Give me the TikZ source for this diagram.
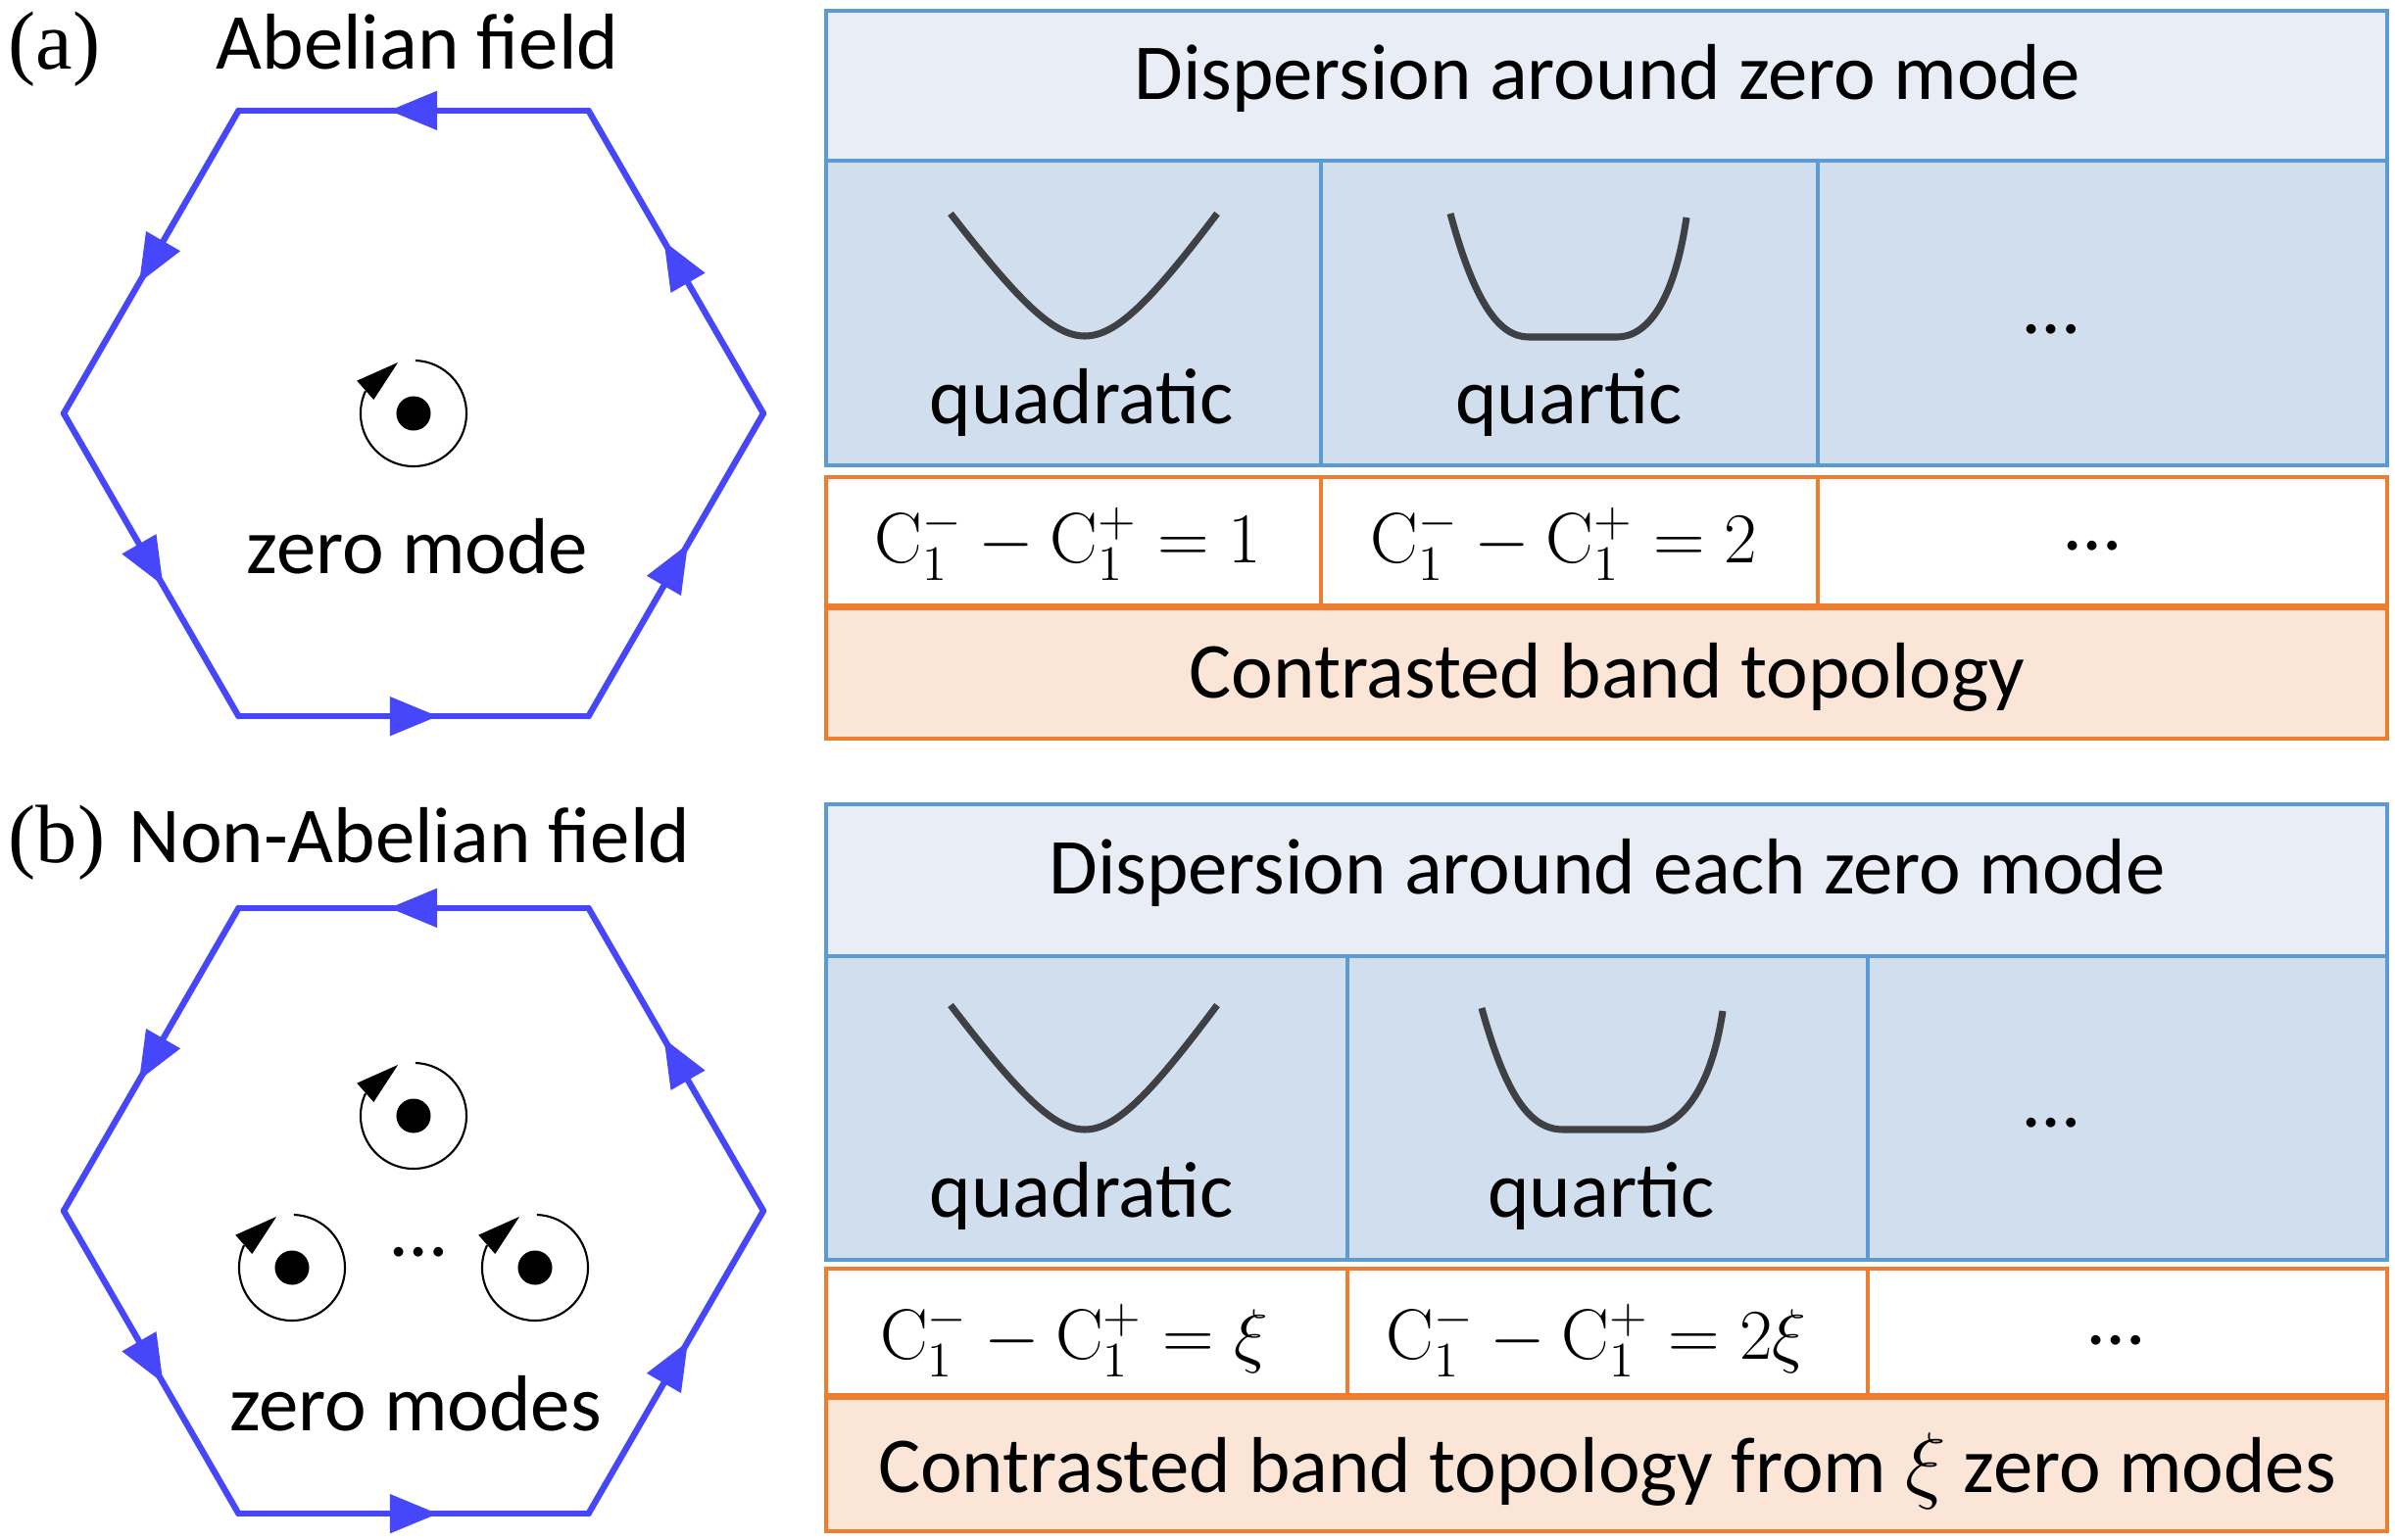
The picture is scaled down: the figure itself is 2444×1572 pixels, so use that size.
\documentclass[tikz,border=0pt]{standalone}
\usepackage[no-math]{fontspec}
\setmainfont{Carlito}
\newfontfamily\tagfont{Liberation Serif}
\usepackage{xcolor}
\usetikzlibrary{arrows.meta}
\usetikzlibrary{decorations.markings}
\definecolor{fieldblue}{RGB}{70,70,250}
\definecolor{cellblue}{RGB}{91,155,213}
\definecolor{headfill}{RGB}{233,238,246}
\definecolor{dispfill}{RGB}{209,222,238}
\definecolor{cellorange}{RGB}{237,125,49}
\definecolor{bandfill}{RGB}{251,229,214}
\definecolor{curvegray}{RGB}{62,64,68}
\tikzset{
  fieldedge/.style={fieldblue, line width=1.8pt, line cap=round, postaction={decorate},
    decoration={markings, mark=at position 0.57 with {\arrow{Triangle[length=14pt,width=11pt]}}}},
  headbox/.style={draw=cellblue, fill=headfill, line width=1.1pt},
  dispbox/.style={draw=cellblue, fill=dispfill, line width=1.1pt},
  ratebox/.style={draw=cellorange, fill=white, line width=1.1pt},
  bandbox/.style={draw=cellorange, fill=bandfill, line width=1.1pt},
  dispcurve/.style={curvegray, line width=2pt},
  txt/.style={anchor=base, inner sep=0pt, font=\fontsize{23}{27}\selectfont},
  rate/.style={anchor=base, inner sep=0pt, font=\fontsize{21}{25}\selectfont},
  tag/.style={anchor=base west, inner sep=0pt, font=\tagfont\fontsize{24}{28}\selectfont}
}
% zero mode: dot with a circulating arrow
\newcommand\zeromode[1]{
  \begin{scope}[shift={#1}]
    \fill (0cm,0cm) circle[radius=0.175cm];
    \draw[line width=0.6pt] (88:0.54cm) arc[start angle=88, end angle=-205, radius=0.54cm];
    \fill (107:0.544cm) -- (150:0.667cm) -- (161:0.43cm) -- cycle;
  \end{scope}
}

\begin{document}
\begin{tikzpicture}[x=0.01cm, y=-0.01cm]
  \useasboundingbox (0,0) rectangle (2444,1572);
  % hexagons
  \coordinate (hexa) at (422,422);
  \coordinate (hexb) at (422,1236);
  \foreach \h in {hexa,hexb}
    \foreach \k in {0,...,5}
      \draw[fieldedge, shift={(\h)}] ({-60-60*\k}:357) -- ({-120-60*\k}:357);
  \zeromode{(422,422)}
  \zeromode{(422,1139)}
  \zeromode{(298,1294)}
  \zeromode{(546,1294)}
  \node[tag] (taga) at (8,70) {(a)};
  \node[txt] (fielda) at (426,70) {Abelian field};
  \node[txt] (modea) at (426,585) {zero mode};
  \node[tag] (tagb) at (8,880) {(b)};
  \node[txt] (fieldb) at (418,880) {Non-Abelian field};
  \node[txt] (moremodes) at (427,1282) {\dots};
  \node[txt] (modeb) at (424,1460) {zero modes};

  % table (a)
  \draw[headbox] (843,11) rectangle (2436,164);
  \foreach \l/\r in {843/1348,1348/1855,1855/2436} {
    \draw[dispbox] (\l,164) rectangle (\r,475);
    \draw[ratebox] (\l,487) rectangle (\r,618);
  }
  \draw[bandbox] (843,621) rectangle (2436,754);
  \draw[dispcurve] (970,218) .. controls (1040,308) and (1075,343) .. (1107,343)
    .. controls (1139,343) and (1174,308) .. (1242,218);
  \draw[dispcurve] (1480,218) .. controls (1505,310) and (1530,344) .. (1560,344)
    -- (1650,344) .. controls (1680,344) and (1708,310) .. (1721,222);
  \node[txt] (heada) at (1640,101) {Dispersion around zero mode};
  \node[txt] (quada) at (1104,432) {quadratic};
  \node[txt] (quarta) at (1601,432) {quartic};
  \node[txt] (moreda) at (2093,340) {\dots};
  \node[rate] (ratea1) at (1090,574) {$\mathrm{C}_1^- - \mathrm{C}_1^+ = 1$};
  \node[rate] (ratea2) at (1596,574) {$\mathrm{C}_1^- - \mathrm{C}_1^+ = 2$};
  \node[txt] (morera) at (2135,561) {\dots};
  \node[txt] (banda) at (1640,712) {Contrasted band topology};

  % table (b)
  \draw[headbox] (843,821) rectangle (2436,976);
  \foreach \l/\r in {843/1375,1375/1906,1906/2436} {
    \draw[dispbox] (\l,976) rectangle (\r,1286);
    \draw[ratebox] (\l,1295) rectangle (\r,1424);
  }
  \draw[bandbox] (843,1427) rectangle (2436,1563);
  \draw[dispcurve] (970,1026) .. controls (1040,1117) and (1075,1153) .. (1107,1153)
    .. controls (1139,1153) and (1174,1117) .. (1242,1026);
  \draw[dispcurve] (1512,1029) .. controls (1537,1120) and (1562,1153) .. (1595,1153)
    -- (1678,1153) .. controls (1710,1153) and (1745,1120) .. (1758,1032);
  \node[txt] (headb) at (1640,912) {Dispersion around each zero mode};
  \node[txt] (quadb) at (1104,1242) {quadratic};
  \node[txt] (quartb) at (1634,1242) {quartic};
  \node[txt] (moredb) at (2093,1150) {\dots};
  \node[rate] (rateb1) at (1096,1387) {$\mathrm{C}_1^- - \mathrm{C}_1^+ = \xi$};
  \node[rate] (rateb2) at (1629,1387) {$\mathrm{C}_1^- - \mathrm{C}_1^+ = 2\xi$};
  \node[txt] (morerb) at (2159,1372) {\dots};
  \node[txt] (bandb) at (1640,1523) {Contrasted band topology from $\xi$ zero modes};
\end{tikzpicture}
\end{document}
